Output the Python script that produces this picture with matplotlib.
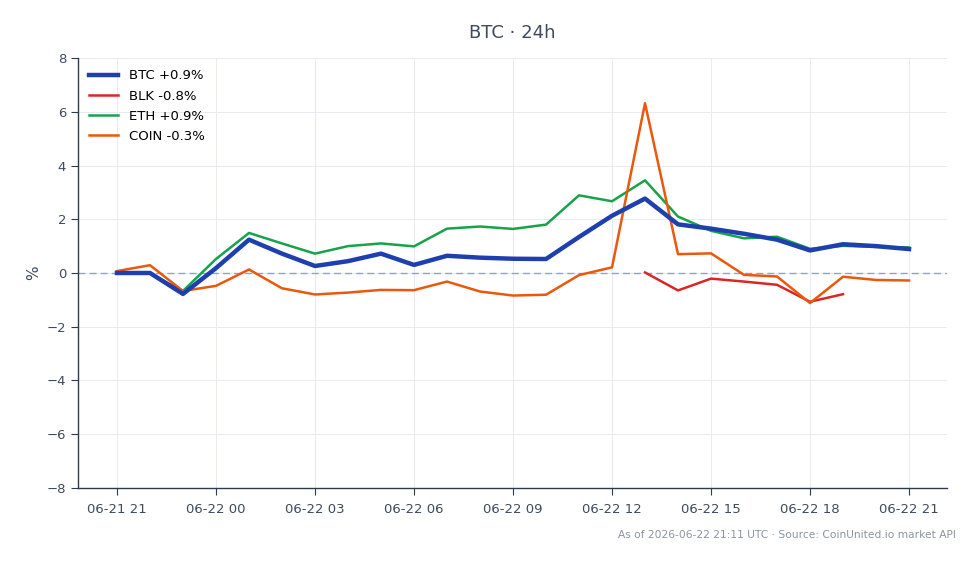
import numpy as np
import matplotlib.pyplot as plt

# hourly % change, 06-21 21:00 -> 06-22 21:00
hours = list(range(25))
tick_pos = [0, 3, 6, 9, 12, 15, 18, 21, 24]
tick_labels = ['06-21 21', '06-22 00', '06-22 03', '06-22 06', '06-22 09',
               '06-22 12', '06-22 15', '06-22 18', '06-22 21']

btc = [0.0, 0.0, -0.78, 0.18, 1.24, 0.72, 0.26, 0.44, 0.72, 0.3, 0.64, 0.57,
       0.53, 0.52, 1.34, 2.13, 2.77, 1.81, 1.65, 1.46, 1.24, 0.84, 1.07, 1.0, 0.89]
eth = [0.0, -0.02, -0.67, 0.52, 1.49, 1.1, 0.72, 1.0, 1.1, 0.99, 1.65, 1.73,
       1.64, 1.8, 2.89, 2.67, 3.45, 2.1, 1.57, 1.29, 1.35, 0.9, 1.01, 0.97, 0.95]
coin = [0.07, 0.29, -0.67, -0.48, 0.13, -0.57, -0.8, -0.73, -0.63, -0.64, -0.32, -0.69,
        -0.84, -0.81, -0.08, 0.21, 6.32, 0.70, 0.73, -0.07, -0.13, -1.12, -0.14, -0.26, -0.28]
blk = [np.nan] * 16 + [0.02, -0.65, -0.21, -0.32, -0.44, -1.07, -0.79] + [np.nan] * 2

series = [
    ('BTC +0.9%', btc, '#1e40af', 3.2),
    ('BLK -0.8%', blk, '#dc2626', 1.8),
    ('ETH +0.9%', eth, '#16a34a', 1.8),
    ('COIN -0.3%', coin, '#ea580c', 1.8),
]

ink = '#3d4b5f'
fig = plt.figure(figsize=(9.79, 5.64), dpi=100)
ax = fig.add_axes([0.0797, 0.135, 0.8876, 0.762])

ax.axhline(0, color='#8fa3c4', lw=1.0, ls=(0, (5, 3)), zorder=1)
for name, vals, col, lw in series:
    ax.plot(hours, vals, color=col, lw=lw, label=name,
            solid_joinstyle='round', zorder=3 if name.startswith('BTC') else 2)

ax.set_xlim(-1.18, 25.15)
ax.set_ylim(-8, 8)
ax.set_yticks(range(-8, 9, 2))
ax.set_xticks(tick_pos)
ax.set_xticklabels(tick_labels)
ax.grid(True, color='#e8ebf0', lw=0.7)
ax.set_axisbelow(True)
for s in ['top', 'right']:
    ax.spines[s].set_visible(False)
for s in ['left', 'bottom']:
    ax.spines[s].set_color('#2d3b4e')
    ax.spines[s].set_linewidth(1.0)
ax.tick_params(colors=ink, labelsize=9.5, length=5, color='#2d3b4e')
ax.tick_params(axis='x', pad=6)
ax.set_ylabel('%', color=ink, fontsize=11)

ax.legend(loc='upper left', frameon=False, fontsize=9.5, handlelength=2.2,
          borderaxespad=0.45, labelspacing=0.55)

fig.text(0.523, 0.942, 'BTC · 24h', ha='center', va='center', fontsize=13, color=ink)
fig.text(0.976, 0.052, 'As of 2026-06-22 21:11 UTC · Source: CoinUnited.io market API',
         ha='right', va='center', fontsize=7.7, color='#8a94a3')

fig.savefig('out.png', dpi=100)
